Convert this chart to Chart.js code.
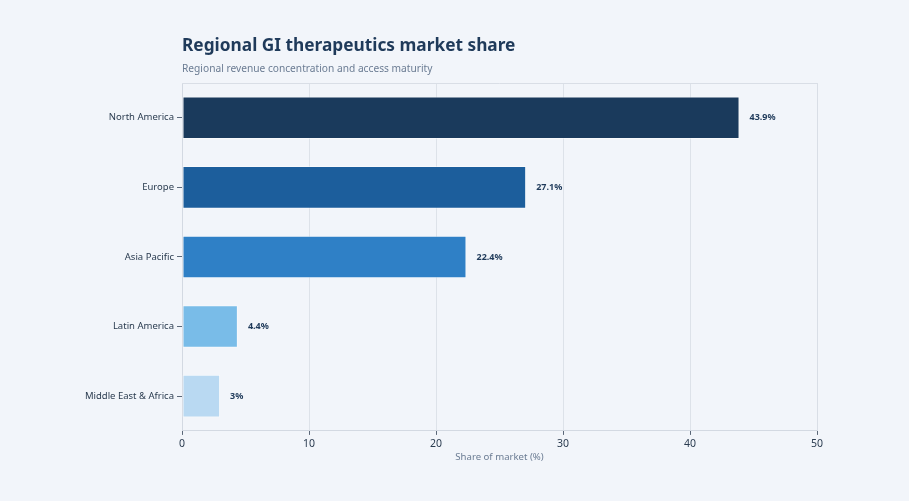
<!DOCTYPE html>
<html>
<head>
<meta charset="utf-8">
<script src="https://cdn.jsdelivr.net/npm/chart.js@4.4.1/dist/chart.umd.min.js"></script>
<style>
  html, body { margin: 0; padding: 0; background: #f2f5fa; }
  #wrap { width: 909px; height: 501px; position: relative; }
</style>
</head>
<body>
<div id="wrap"><canvas id="myChart" width="909" height="501"></canvas></div>
<script>
// Chart data
const regions = ['North America', 'Europe', 'Asia Pacific', 'Latin America', 'Middle East & Africa'];
const shares = [43.9, 27.1, 22.4, 4.4, 3.0];
const shareLabels = ['43.9%', '27.1%', '22.4%', '4.4%', '3%'];
const barColors = ['#1a3a5c', '#1c5e9c', '#2f80c6', '#79bce8', '#b9d9f2'];
const xTicks = [0, 10, 20, 30, 40, 50];

const titleText = 'Regional GI therapeutics market share';
const subtitleText = 'Regional revenue concentration and access maturity';

Chart.defaults.font.family = '"Noto Sans", "DejaVu Sans", sans-serif';
Chart.defaults.color = '#2a3b4f';

// Title, subtitle and frame drawn relative to the plot area
const headerPlugin = {
    id: 'header',
    beforeDraw(chart) {
        const { ctx, chartArea } = chart;
        ctx.save();
        ctx.fillStyle = '#f2f5fa';
        ctx.fillRect(0, 0, chart.width, chart.height);
        ctx.textAlign = 'left';
        ctx.textBaseline = 'middle';
        ctx.fillStyle = '#1f3a5a';
        ctx.font = 'bold 17.3px "Noto Sans", sans-serif';
        ctx.fillText(titleText, chartArea.left, 46);
        ctx.fillStyle = '#6b7c93';
        ctx.font = '10.2px "Noto Sans", sans-serif';
        ctx.fillText(subtitleText, chartArea.left, 69);
        ctx.restore();
    },
    afterDraw(chart) {
        const { ctx, chartArea } = chart;
        ctx.save();
        ctx.strokeStyle = '#d9dee6';
        ctx.lineWidth = 1;
        ctx.beginPath();
        ctx.moveTo(chartArea.left, chartArea.top + 0.5);
        ctx.lineTo(chartArea.right + 0.5, chartArea.top + 0.5);
        ctx.lineTo(chartArea.right + 0.5, chartArea.bottom);
        ctx.stroke();
        ctx.restore();
    }
};

// Value labels to the right of each bar
const valueLabelPlugin = {
    id: 'valueLabels',
    afterDatasetsDraw(chart) {
        const { ctx } = chart;
        const meta = chart.getDatasetMeta(0);
        ctx.save();
        ctx.font = 'bold 9px "Noto Sans", sans-serif';
        ctx.fillStyle = '#1f3a5a';
        ctx.textAlign = 'left';
        ctx.textBaseline = 'middle';
        meta.data.forEach((bar, i) => {
            ctx.fillText(shareLabels[i], bar.x + 10, bar.y);
        });
        ctx.restore();
    }
};

const ctx = document.getElementById('myChart').getContext('2d');
const myChart = new Chart(ctx, {
    type: 'bar',
    data: {
        labels: regions,
        datasets: [{
            data: shares,
            backgroundColor: barColors,
            borderColor: 'rgba(255, 255, 255, 0.45)',
            borderWidth: 1,
            borderSkipped: false,
            categoryPercentage: 1,
            barPercentage: 0.612
        }]
    },
    options: {
        indexAxis: 'y',
        responsive: false,
        animation: false,
        layout: { padding: { left: 0, right: 92, top: 83, bottom: 39 } },
        plugins: {
            legend: { display: false },
            tooltip: { enabled: false }
        },
        scales: {
            x: {
                min: 0,
                max: 50,
                z: 1,
                afterBuildTicks: scale => { scale.ticks = xTicks.map(v => ({ value: v })); },
                ticks: { color: '#2a3b4f', font: { size: 10.5, lineHeight: 1 }, padding: 3.5 },
                grid: { color: '#dde2e9', tickLength: 4, tickColor: '#5a6778' },
                border: { color: '#d3d9e2' },
                title: {
                    display: true,
                    text: 'Share of market (%)',
                    color: '#6b7c93',
                    font: { size: 9.6, lineHeight: 1 },
                    padding: { top: 0, bottom: 0 }
                }
            },
            y: {
                afterFit: scale => { scale.width = 182; },
                ticks: { color: '#2a3b4f', font: { size: 9.5 }, padding: 3 },
                grid: { drawOnChartArea: false, offset: false, tickLength: 5, tickColor: '#5a6778' },
                border: { color: '#d3d9e2' }
            }
        }
    },
    plugins: [headerPlugin, valueLabelPlugin]
});
</script>
</body>
</html>
